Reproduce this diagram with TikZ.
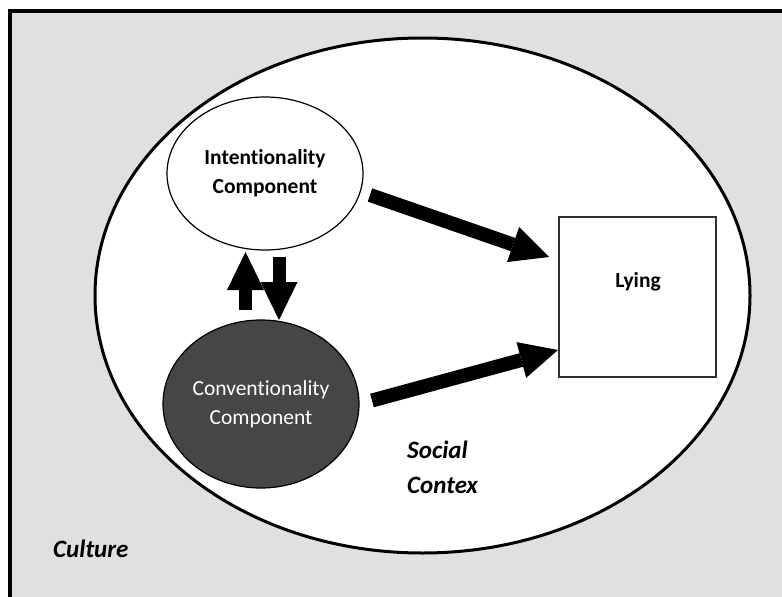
\documentclass[tikz,border=0pt]{standalone}
\usepackage{fontspec}
\setmainfont{Carlito}[Ligatures={NoCommon,NoContextual,NoRare}]
\usetikzlibrary{arrows.meta,shapes.geometric}
\definecolor{culturegray}{HTML}{E0E0E0}
\definecolor{convgray}{HTML}{464646}
\definecolor{boxline}{HTML}{303030}
\begin{document}
\begin{tikzpicture}[x=1pt,y=-1pt,
  bigarrow/.style={line width=14pt,-{Triangle[length=38pt,width=37pt,line width=0pt]}},
  comp/.style={ellipse,draw=black,line width=1.2pt,inner sep=0pt,align=center,
    font=\fontsize{21.5}{29}\selectfont},
  lbl/.style={font=\bfseries\itshape\fontsize{25}{29}\selectfont,anchor=base west,inner sep=0pt}]
\useasboundingbox (0,0) rectangle (782,597);
\clip (0,0) rectangle (782,597);
\draw[fill=culturegray,line width=3.5pt] (10,11) rectangle (840,660);
\node[ellipse,draw=black,line width=3pt,fill=white,minimum width=655,minimum height=515,inner sep=0pt] (SC) at (422.5,295.5) {};
\node[comp,fill=white,font=\bfseries\fontsize{21.5}{29}\selectfont,minimum width=196,minimum height=153] (I) at (265,173.5) {Intentionality\\Component};
\node[comp,fill=convgray,text=white,minimum width=196,minimum height=168] (C) at (261,404) {Conventionality\\Component};
\node[draw=boxline,line width=1.3pt,fill=white,minimum width=157,minimum height=160,inner sep=0pt] (L) at (637.5,297) {};
\node[font=\bfseries\fontsize{21.5}{25}\selectfont,anchor=base,inner sep=0pt] (Ltxt) at (638,287) {Lying};
\coordinate (a1s) at (370,195);
\coordinate (a1e) at (549,257);
\coordinate (a2s) at (372,400.5);
\coordinate (a2e) at (558,350);
\coordinate (ups) at (245.5,310);
\coordinate (upe) at (245.5,252);
\coordinate (dns) at (279,257);
\coordinate (dne) at (279,320);
\draw[bigarrow] (a1s) -- (a1e);
\draw[bigarrow] (a2s) -- (a2e);
\draw[bigarrow,line width=13pt] (ups) -- (upe);
\draw[bigarrow,line width=13pt] (dns) -- (dne);
\node[lbl] (soc) at (407,458) {Social};
\node[lbl] (ctx) at (407,493) {Contex};
\node[lbl] (cul) at (53,557) {Culture};
\end{tikzpicture}
\end{document}
